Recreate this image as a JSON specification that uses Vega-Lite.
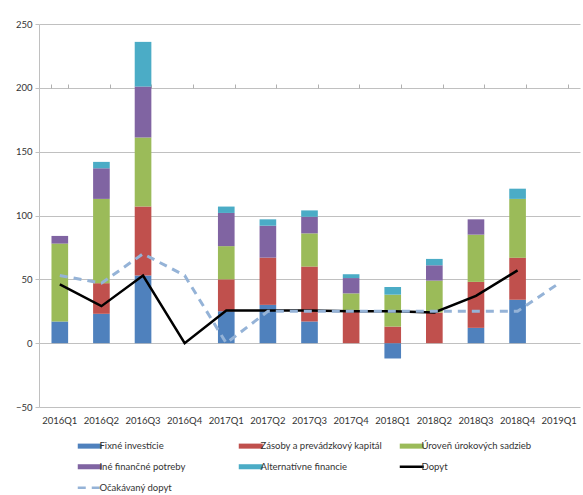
{
  "$schema": "https://vega.github.io/schema/vega-lite/v6.json",
  "width": 541,
  "height": 383,
  "autosize": {"type": "none"},
  "padding": {"left": 39, "top": 24, "right": 3, "bottom": 88},
  "background": "white",
  "config": {
    "view": {"stroke": null},
    "font": "Lato",
    "axis": {"labelFont": "Lato", "labelFontSize": 9.5, "labelColor": "#333333"}
  },
  "datasets": {
    "bars": [
      {"q": "2016Q1", "series": "Fixné investície", "v": 17},
      {"q": "2016Q2", "series": "Fixné investície", "v": 23},
      {"q": "2016Q3", "series": "Fixné investície", "v": 53},
      {"q": "2017Q1", "series": "Fixné investície", "v": 25},
      {"q": "2017Q2", "series": "Fixné investície", "v": 30},
      {"q": "2017Q3", "series": "Fixné investície", "v": 17},
      {"q": "2018Q1", "series": "Fixné investície", "v": -12},
      {"q": "2018Q3", "series": "Fixné investície", "v": 12},
      {"q": "2018Q4", "series": "Fixné investície", "v": 34},
      {"q": "2016Q2", "series": "Zásoby a prevádzkový kapitál", "v": 24},
      {"q": "2016Q3", "series": "Zásoby a prevádzkový kapitál", "v": 54},
      {"q": "2017Q1", "series": "Zásoby a prevádzkový kapitál", "v": 25},
      {"q": "2017Q2", "series": "Zásoby a prevádzkový kapitál", "v": 37},
      {"q": "2017Q3", "series": "Zásoby a prevádzkový kapitál", "v": 43},
      {"q": "2017Q4", "series": "Zásoby a prevádzkový kapitál", "v": 25},
      {"q": "2018Q1", "series": "Zásoby a prevádzkový kapitál", "v": 13},
      {"q": "2018Q2", "series": "Zásoby a prevádzkový kapitál", "v": 24},
      {"q": "2018Q3", "series": "Zásoby a prevádzkový kapitál", "v": 36},
      {"q": "2018Q4", "series": "Zásoby a prevádzkový kapitál", "v": 33},
      {"q": "2016Q1", "series": "Úroveň úrokových sadzieb", "v": 61},
      {"q": "2016Q2", "series": "Úroveň úrokových sadzieb", "v": 66},
      {"q": "2016Q3", "series": "Úroveň úrokových sadzieb", "v": 54},
      {"q": "2017Q1", "series": "Úroveň úrokových sadzieb", "v": 26},
      {"q": "2017Q3", "series": "Úroveň úrokových sadzieb", "v": 26},
      {"q": "2017Q4", "series": "Úroveň úrokových sadzieb", "v": 14},
      {"q": "2018Q1", "series": "Úroveň úrokových sadzieb", "v": 25},
      {"q": "2018Q2", "series": "Úroveň úrokových sadzieb", "v": 25},
      {"q": "2018Q3", "series": "Úroveň úrokových sadzieb", "v": 37},
      {"q": "2018Q4", "series": "Úroveň úrokových sadzieb", "v": 46},
      {"q": "2016Q1", "series": "Iné finančné potreby", "v": 6},
      {"q": "2016Q2", "series": "Iné finančné potreby", "v": 24},
      {"q": "2016Q3", "series": "Iné finančné potreby", "v": 40},
      {"q": "2017Q1", "series": "Iné finančné potreby", "v": 26},
      {"q": "2017Q2", "series": "Iné finančné potreby", "v": 25},
      {"q": "2017Q3", "series": "Iné finančné potreby", "v": 13},
      {"q": "2017Q4", "series": "Iné finančné potreby", "v": 12},
      {"q": "2018Q2", "series": "Iné finančné potreby", "v": 12},
      {"q": "2018Q3", "series": "Iné finančné potreby", "v": 12},
      {"q": "2016Q2", "series": "Alternatívne financie", "v": 5},
      {"q": "2016Q3", "series": "Alternatívne financie", "v": 35},
      {"q": "2017Q1", "series": "Alternatívne financie", "v": 5},
      {"q": "2017Q2", "series": "Alternatívne financie", "v": 5},
      {"q": "2017Q3", "series": "Alternatívne financie", "v": 5},
      {"q": "2017Q4", "series": "Alternatívne financie", "v": 3},
      {"q": "2018Q1", "series": "Alternatívne financie", "v": 6},
      {"q": "2018Q2", "series": "Alternatívne financie", "v": 5},
      {"q": "2018Q4", "series": "Alternatívne financie", "v": 8}
    ],
    "dopyt": [
      {"q": "2016Q1", "series": "Dopyt", "v": 46},
      {"q": "2016Q2", "series": "Dopyt", "v": 29},
      {"q": "2016Q3", "series": "Dopyt", "v": 53},
      {"q": "2016Q4", "series": "Dopyt", "v": 0},
      {"q": "2017Q1", "series": "Dopyt", "v": 25.5},
      {"q": "2017Q2", "series": "Dopyt", "v": 25.5},
      {"q": "2017Q3", "series": "Dopyt", "v": 25.5},
      {"q": "2017Q4", "series": "Dopyt", "v": 25},
      {"q": "2018Q1", "series": "Dopyt", "v": 25},
      {"q": "2018Q2", "series": "Dopyt", "v": 24},
      {"q": "2018Q3", "series": "Dopyt", "v": 37},
      {"q": "2018Q4", "series": "Dopyt", "v": 57}
    ],
    "ocak": [
      {"q": "2016Q1", "series": "Očakávaný dopyt", "v": 53},
      {"q": "2016Q2", "series": "Očakávaný dopyt", "v": 47},
      {"q": "2016Q3", "series": "Očakávaný dopyt", "v": 70},
      {"q": "2016Q4", "series": "Očakávaný dopyt", "v": 53},
      {"q": "2017Q1", "series": "Očakávaný dopyt", "v": 0},
      {"q": "2017Q2", "series": "Očakávaný dopyt", "v": 25},
      {"q": "2017Q3", "series": "Očakávaný dopyt", "v": 25},
      {"q": "2017Q4", "series": "Očakávaný dopyt", "v": 25},
      {"q": "2018Q1", "series": "Očakávaný dopyt", "v": 25},
      {"q": "2018Q2", "series": "Očakávaný dopyt", "v": 25},
      {"q": "2018Q3", "series": "Očakávaný dopyt", "v": 25},
      {"q": "2018Q4", "series": "Očakávaný dopyt", "v": 25},
      {"q": "2019Q1", "series": "Očakávaný dopyt", "v": 47}
    ]
  },
  "resolve": {"axis": {"x": "independent"}},
  "layer": [
    {
      "data": {"name": "bars"},
      "transform": [
        {"calculate": "indexof(['Fixné investície','Zásoby a prevádzkový kapitál','Úroveň úrokových sadzieb','Iné finančné potreby','Alternatívne financie'], datum.series)", "as": "ord"}
      ],
      "mark": {"type": "bar"},
      "encoding": {
        "x": {
          "field": "q", "type": "nominal",
          "sort": ["2016Q1","2016Q2","2016Q3","2016Q4","2017Q1","2017Q2","2017Q3","2017Q4","2018Q1","2018Q2","2018Q3","2018Q4","2019Q1"],
          "scale": {
            "domain": ["2016Q1","2016Q2","2016Q3","2016Q4","2017Q1","2017Q2","2017Q3","2017Q4","2018Q1","2018Q2","2018Q3","2018Q4","2019Q1"],
            "paddingInner": 0.6, "paddingOuter": 0.3
          },
          "axis": {"title": null, "labelAngle": 0, "domain": false, "ticks": false, "grid": false, "labelPadding": 8}
        },
        "y": {
          "field": "v", "type": "quantitative", "stack": "zero",
          "scale": {"domain": [-50, 250], "nice": false, "zero": false},
          "axis": {
            "title": null, "values": [-50, 0, 50, 100, 150, 200, 250],
            "grid": true, "gridColor": "#c0c0c0", "gridWidth": 1,
            "domain": true, "domainColor": "#c0c0c0",
            "ticks": true, "tickColor": "#c0c0c0", "tickSize": 4, "labelPadding": 3
          }
        },
        "order": {"field": "ord", "type": "quantitative"},
        "color": {
          "field": "series", "type": "nominal",
          "scale": {
            "domain": ["Fixné investície","Zásoby a prevádzkový kapitál","Úroveň úrokových sadzieb","Iné finančné potreby","Alternatívne financie","Dopyt","Očakávaný dopyt"],
            "range": ["#4F81BD","#C0504D","#9BBB59","#8064A2","#4BACC6","#000000","#95B3D7"]
          },
          "legend": {
            "values": ["Fixné investície","Zásoby a prevádzkový kapitál","Úroveň úrokových sadzieb","Iné finančné potreby","Alternatívne financie","Dopyt","Očakávaný dopyt"],
            "orient": "none", "direction": "horizontal", "legendX": 46, "legendY": 417,
            "columns": 3, "gridAlign": "all", "columnPadding": 11, "rowPadding": 10,
            "title": null, "labelFont": "Lato", "labelFontSize": 9.5, "labelColor": "#333333",
            "symbolSize": 576, "labelOffset": 5, "padding": 0,
            "encode": {
              "symbols": {
                "update": {
                  "shape": {"signal": "(datum.label === 'Dopyt' || datum.label === 'Očakávaný dopyt') ? 'M-1,0H1' : 'M-1,-0.21H1V0.21H-1Z'"},
                  "fill": {"signal": "(datum.label === 'Dopyt' || datum.label === 'Očakávaný dopyt') ? 'transparent' : scale('color', datum.value)"},
                  "stroke": {"signal": "(datum.label === 'Dopyt' || datum.label === 'Očakávaný dopyt') ? scale('color', datum.value) : 'transparent'"},
                  "strokeWidth": {"signal": "(datum.label === 'Dopyt' || datum.label === 'Očakávaný dopyt') ? 2.5 : 0"},
                  "strokeDash": {"signal": "datum.label === 'Očakávaný dopyt' ? [8, 6] : [1, 0]"},
                  "opacity": {"value": 1}
                }
              }
            }
          }
        }
      }
    },
    {
      "data": {"name": "dopyt"},
      "mark": {"type": "line", "strokeWidth": 2.5},
      "encoding": {
        "x": {
          "field": "q", "type": "nominal",
          "sort": ["2016Q1","2016Q2","2016Q3","2016Q4","2017Q1","2017Q2","2017Q3","2017Q4","2018Q1","2018Q2","2018Q3","2018Q4","2019Q1"],
          "axis": {"title": null, "labels": false, "domain": false, "grid": false, "ticks": true, "tickBand": "extent", "tickColor": "#b0b0b0", "tickSize": 4, "offset": -64}
        },
        "y": {"field": "v", "type": "quantitative"},
        "color": {"field": "series", "type": "nominal"}
      }
    },
    {
      "data": {"name": "ocak"},
      "mark": {"type": "line", "strokeWidth": 3, "strokeDash": [8, 6]},
      "encoding": {
        "x": {
          "field": "q", "type": "nominal",
          "sort": ["2016Q1","2016Q2","2016Q3","2016Q4","2017Q1","2017Q2","2017Q3","2017Q4","2018Q1","2018Q2","2018Q3","2018Q4","2019Q1"],
          "axis": null
        },
        "y": {"field": "v", "type": "quantitative"},
        "color": {"field": "series", "type": "nominal"}
      }
    }
  ]
}
